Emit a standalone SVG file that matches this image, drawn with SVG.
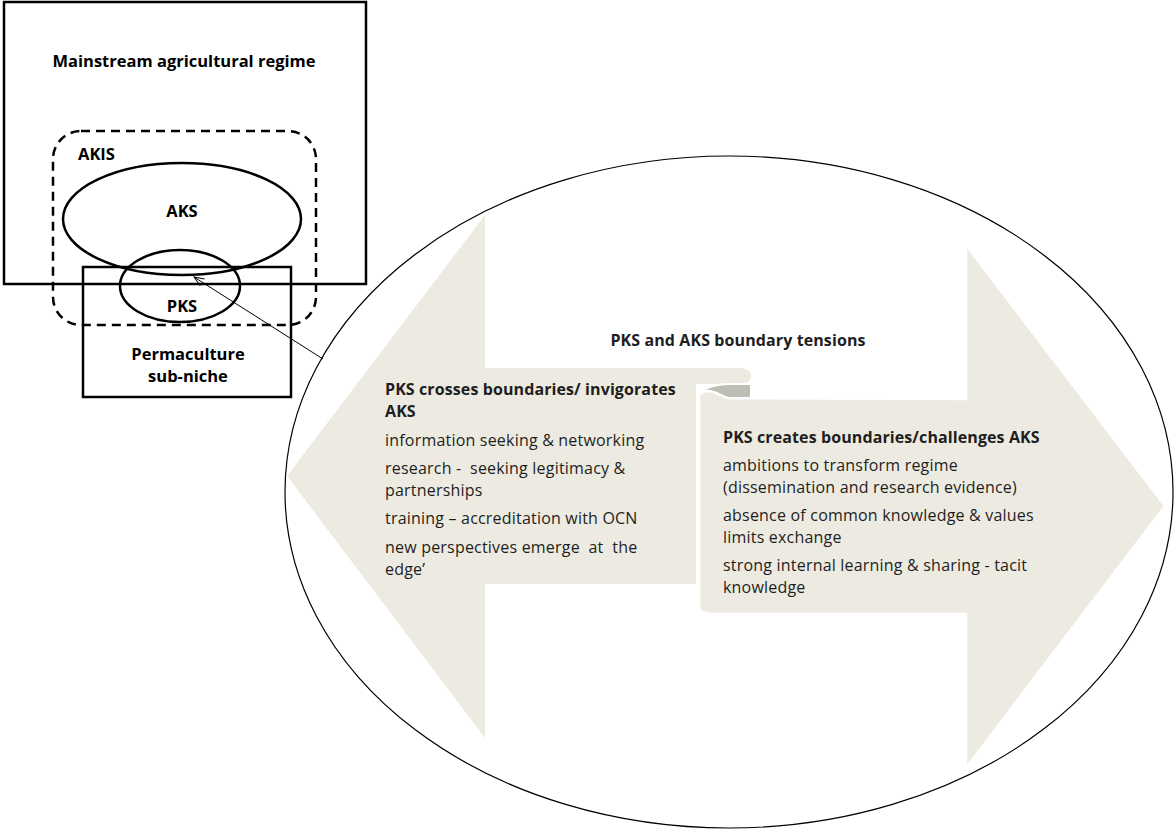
<svg xmlns="http://www.w3.org/2000/svg" width="1176" height="832" viewBox="0 0 1176 832">
<style>
.lbl{font-family:"Open Sans","Liberation Sans",sans-serif;font-weight:bold;font-size:16.5px;fill:#000}
.bt{font-family:"Open Sans","Liberation Sans",sans-serif;font-size:16px;letter-spacing:0.2px;fill:#1e1e1e}
.bb{font-family:"Open Sans","Liberation Sans",sans-serif;font-weight:bold;font-size:16px;letter-spacing:0.1px;fill:#1e1e1e}
.thick{fill:none;stroke:#000;stroke-width:2.5}
</style>
<defs>
<marker id="oa" markerWidth="12" markerHeight="10" refX="11" refY="5" orient="auto" markerUnits="userSpaceOnUse">
<path d="M1,1 L11,5 L1,9" fill="none" stroke="#000" stroke-width="1"/>
</marker>
</defs>
<rect width="1176" height="832" fill="#fff"/>
<g id="tension-ellipse">
<ellipse cx="729" cy="492" rx="444" ry="336" fill="#fff" stroke="#000" stroke-width="1.2"/>
</g>
<g id="left-arrow">
<path d="M287,476 L485,215 L485,368 L740,368 C747,368 751,372 751,376 C751,380 747,384 740,384 L696,384 L696,584 L485,584 L485,738 Z" fill="#EDEBE1"/>
<text class="bb" x="385" y="395">PKS crosses boundaries/ invigorates</text>
<text class="bb" x="385" y="417">AKS</text>
<text class="bt" x="385" y="446">information seeking &amp; networking</text>
<text class="bt" x="385" y="474" xml:space="preserve">research -  seeking legitimacy &amp;</text>
<text class="bt" x="385" y="496">partnerships</text>
<text class="bt" x="385" y="524">training – accreditation with OCN</text>
<text class="bt" x="385" y="553" xml:space="preserve">new perspectives emerge  at  the</text>
<text class="bt" x="385" y="575">edge’</text>
</g>
<g id="right-arrow">
<path d="M700,397 C700,389 712,385 728,384 L751,384 L751,398 L700,398 Z" fill="#BFBEB5" stroke="#fff" stroke-width="2"/>
<path d="M699,397 C699,393 702,391 708,391 C716,391 720,396 728,398 L966,399 L966,245 L1165,506 L966,768 L966,614 L712,614 C703,614 699,611 699,606 Z" fill="#EDEBE1" stroke="#fff" stroke-width="2.5"/>
<text class="bb" x="723" y="443">PKS creates boundaries/challenges AKS</text>
<text class="bt" x="723" y="471">ambitions to transform regime</text>
<text class="bt" x="723" y="493">(dissemination and research evidence)</text>
<text class="bt" x="723" y="521">absence of common knowledge &amp; values</text>
<text class="bt" x="723" y="543">limits exchange</text>
<text class="bt" x="723" y="571">strong internal learning &amp; sharing - tacit</text>
<text class="bt" x="723" y="593">knowledge</text>
</g>
<g id="tension-title">
<text class="bb" x="738" y="346" text-anchor="middle">PKS and AKS boundary tensions</text>
</g>
<g id="regime">
<rect x="4" y="2" width="362" height="282" class="thick"/>
<text class="lbl" x="184" y="67" text-anchor="middle">Mainstream agricultural regime</text>
</g>
<g id="akis">
<rect x="53" y="131" width="263" height="194" rx="28" ry="28" fill="none" stroke="#000" stroke-width="2.5" stroke-dasharray="9,6"/>
<text class="lbl" x="78" y="160">AKIS</text>
</g>
<g id="aks">
<ellipse cx="182" cy="219" rx="119" ry="56" class="thick"/>
<text class="lbl" x="182" y="217" text-anchor="middle">AKS</text>
</g>
<g id="permaculture">
<rect x="83" y="267" width="208" height="130" class="thick"/>
<text class="lbl" x="188" y="360" text-anchor="middle">Permaculture</text>
<text class="lbl" x="188" y="382" text-anchor="middle">sub-niche</text>
</g>
<g id="pks">
<ellipse cx="180" cy="286" rx="60" ry="36" class="thick"/>
<text class="lbl" x="182" y="312" text-anchor="middle">PKS</text>
</g>
<g id="connectors">
<line x1="323" y1="359" x2="194" y2="277" stroke="#000" stroke-width="1" marker-end="url(#oa)"/>
</g>
</svg>
